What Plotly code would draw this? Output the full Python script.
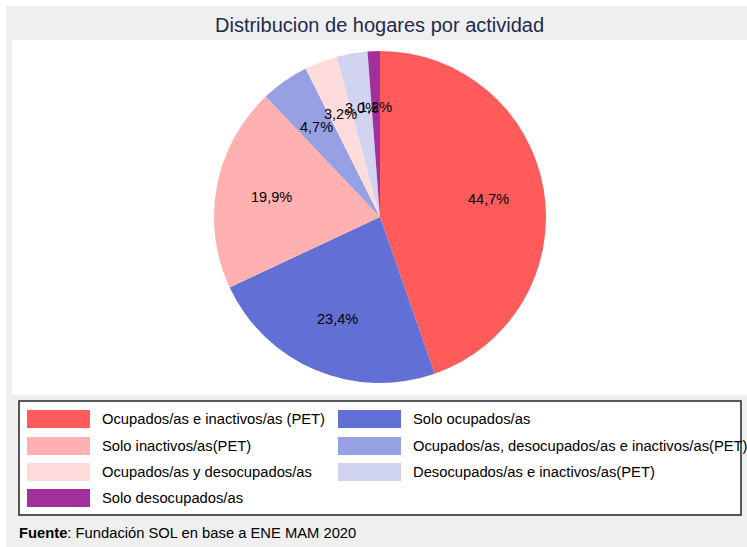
import math
import plotly.graph_objects as go

# ---- data ----
categories = [
    "Ocupados/as e inactivos/as (PET)",
    "Solo ocupados/as",
    "Solo inactivos/as(PET)",
    "Ocupados/as, desocupados/as e inactivos/as(PET)",
    "Ocupados/as y desocupados/as",
    "Desocupados/as e inactivos/as(PET)",
    "Solo desocupados/as",
]
values = [44.7, 23.4, 19.9, 4.7, 3.2, 3.0, 1.2]
colors = ["#ff5b5b", "#6270d6", "#ffb0b0", "#98a0e4", "#ffdcdc", "#d0d4f0", "#a2309a"]
title_text = "Distribucion de hogares por actividad"
caption_bold = "Fuente"
caption_rest = ": Fundación SOL en base a ENE MAM 2020"

# ---- layout constants (pixels) ----
W, H = 747, 547
FONT = "Liberation Sans, Arial, Helvetica, sans-serif"
CX, CY, R = 380, 217, 166


def px(x):
    return x / W


def py(y):
    return 1 - y / H


fig = go.Figure()
fig.add_trace(go.Pie(
    labels=categories,
    values=values,
    marker=dict(colors=colors, line=dict(width=0)),
    sort=False,
    direction="clockwise",
    rotation=0,
    textinfo="none",
    hoverinfo="label+percent",
    showlegend=False,
    domain=dict(x=[px(CX - R), px(CX + R)], y=[py(CY + R), py(CY - R)]),
))

shapes = []
annotations = []

# background panels
shapes.append(dict(type="rect", xref="paper", yref="paper", layer="below",
                   x0=px(6), x1=1, y0=0, y1=py(6),
                   fillcolor="#efefef", line=dict(width=0)))
shapes.append(dict(type="rect", xref="paper", yref="paper", layer="below",
                   x0=px(12), x1=1, y0=py(395), y1=py(40),
                   fillcolor="#ffffff", line=dict(width=0)))

# slice labels (positioned from the data)
total = sum(values)
cum = 0.0
for v in values:
    mid = (cum + v / 2) / total * 2 * math.pi
    cum += v
    lx = CX + 0.665 * R * math.sin(mid)
    ly = CY - 0.665 * R * math.cos(mid)
    annotations.append(dict(
        x=px(lx), y=py(ly), xref="paper", yref="paper",
        text=f"{v:.1f}".replace(".", ",") + "%", showarrow=False,
        xanchor="center", yanchor="middle",
        font=dict(family=FONT, size=14.5, color="#000000"),
    ))

# title
annotations.append(dict(
    x=px(379), y=py(25), xref="paper", yref="paper", text=title_text,
    showarrow=False, xanchor="center", yanchor="middle",
    font=dict(family=FONT, size=20, color="#1e2b4e"),
))

# legend box
shapes.append(dict(type="rect", xref="paper", yref="paper",
                   x0=px(19), x1=px(741), y0=py(515), y1=py(401),
                   fillcolor="#ffffff", line=dict(color="#222222", width=1.5)))
col_x = [27, 338]
row_y = [419, 446, 472, 498]
for i, (cat, col) in enumerate(zip(categories, colors)):
    c, r = i % 2, i // 2
    x0 = col_x[c]
    yc = row_y[r]
    shapes.append(dict(type="rect", xref="paper", yref="paper",
                       x0=px(x0), x1=px(x0 + 63), y0=py(yc + 9), y1=py(yc - 9),
                       fillcolor=col, line=dict(width=0)))
    annotations.append(dict(
        x=px(x0 + 73), y=py(yc), xref="paper", yref="paper", text=cat,
        showarrow=False, xanchor="left", yanchor="middle",
        font=dict(family=FONT, size=14.75, color="#000000"),
    ))

# caption
annotations.append(dict(
    x=px(17), y=py(533), xref="paper", yref="paper",
    text=f"<b>{caption_bold}</b>{caption_rest}",
    showarrow=False, xanchor="left", yanchor="middle",
    font=dict(family=FONT, size=14.75, color="#000000"),
))

fig.update_layout(
    width=W, height=H,
    margin=dict(l=0, r=0, t=0, b=0),
    paper_bgcolor="#ffffff",
    plot_bgcolor="#ffffff",
    showlegend=False,
    shapes=shapes,
    annotations=annotations,
)

fig.write_html(
    "out.html",
    config={"displayModeBar": False},
    post_script="document.body.style.margin='0px';document.body.style.overflow='hidden';",
)
